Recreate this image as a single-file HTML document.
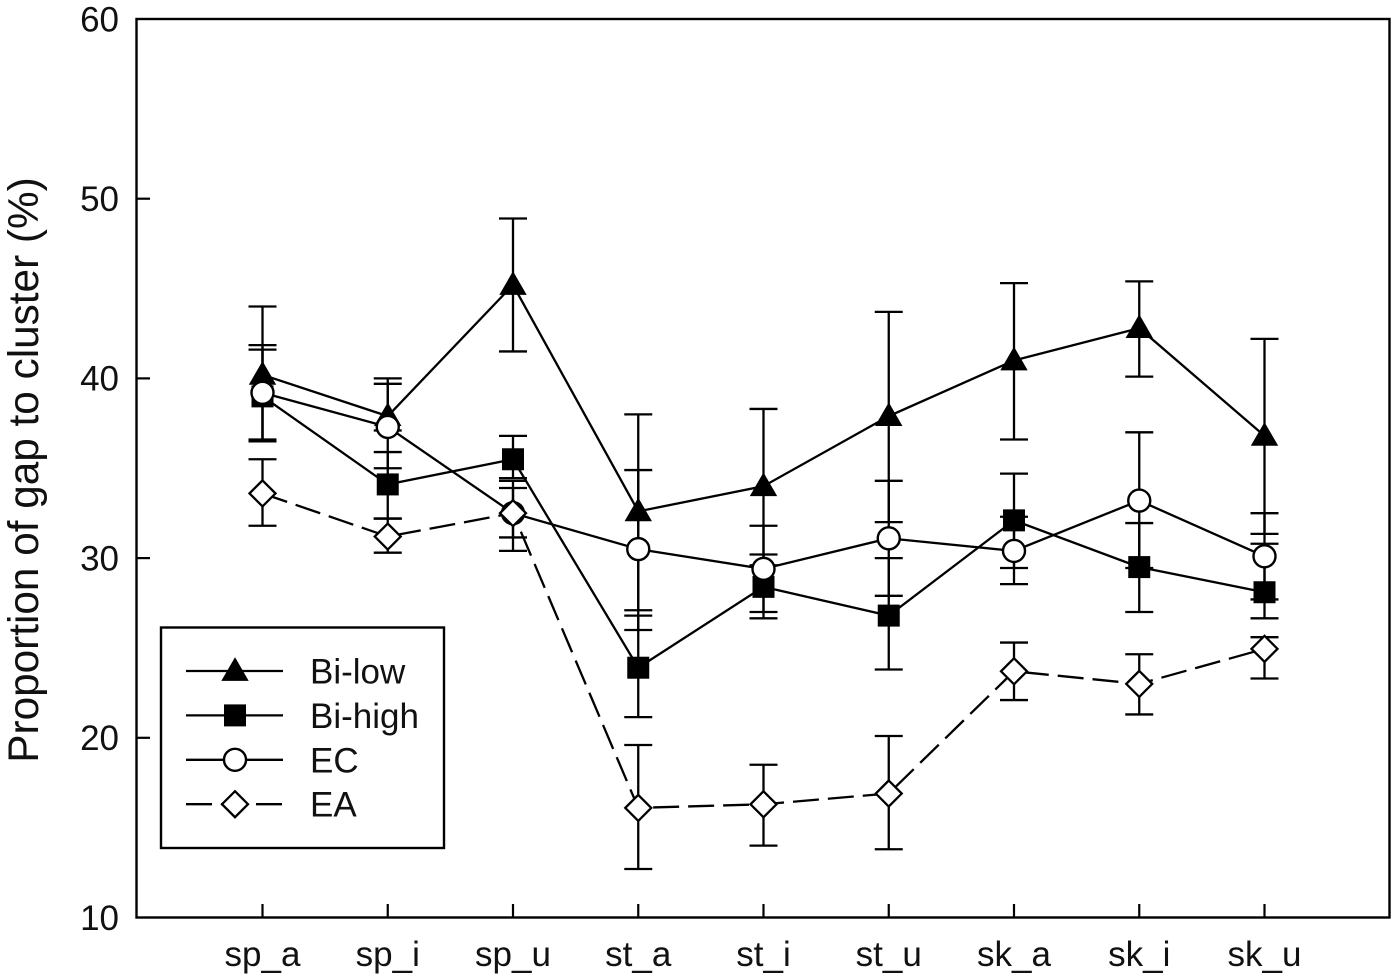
<!DOCTYPE html>
<html lang="en">
<head>
<meta charset="utf-8">
<title>Proportion of gap to cluster</title>
<style>
html,body{margin:0;padding:0;background:#fff;width:1400px;height:978px;overflow:hidden}
svg{display:block}
text{font-family:"Liberation Sans",Arial,sans-serif;fill:#111}
</style>
</head>
<body>
<svg id="chart" width="1400" height="978" viewBox="0 0 1400 978" xmlns="http://www.w3.org/2000/svg">
  <rect x="136.5" y="19" width="1253" height="898.5" fill="none" stroke="#000" stroke-width="2.4"/>
  <text transform="translate(38,470) rotate(-90)" text-anchor="middle" font-size="42.3">Proportion of gap to cluster (%)</text>
  <g id="ticks"></g>
  <g id="series"></g>
  <g id="legend">
    <rect x="161" y="627.5" width="283" height="220.5" fill="#fff" stroke="#000" stroke-width="2.4"/>
  </g>
</svg>
<script>
const categories = ['sp_a','sp_i','sp_u','st_a','st_i','st_u','sk_a','sk_i','sk_u'];
const yTicks = [10,20,30,40,50,60];

const biLowValues = [40.2,37.9,45.2,32.6,34.0,37.9,41.0,42.8,36.8];
const biLowUpper  = [44.0,40.0,48.9,38.0,38.3,43.7,45.3,45.4,42.2];
const biLowLower  = [36.5,37.1,41.5,27.1,29.6,32.0,36.6,40.1,31.35];

const biHighValues = [39.0,34.1,35.5,23.9,28.4,26.8,32.1,29.5,28.1];
const biHighUpper  = [41.6,35.9,36.8,26.8,30.2,30.0,34.7,31.95,30.8];
const biHighLower  = [36.5,32.2,34.45,21.15,26.65,23.8,29.45,27.0,26.65];

const ecValues = [39.2,37.3,32.5,30.5,29.4,31.1,30.4,33.2,30.1];
const ecUpper  = [41.85,39.7,34.3,34.9,31.8,34.3,32.3,37.0,32.5];
const ecLower  = [36.6,35.0,30.4,26.0,27.0,27.9,28.55,29.45,27.7];

const eaValues = [33.6,31.2,32.5,16.1,16.3,16.9,23.7,23.0,24.95];
const eaUpper  = [35.5,32.2,33.9,19.6,18.5,20.1,25.3,24.65,25.6];
const eaLower  = [31.8,30.3,31.15,12.7,14.0,13.8,22.1,21.3,23.3];

const seriesNames = ['Bi-low','Bi-high','EC','EA'];

const NS = 'http://www.w3.org/2000/svg';
const xScale = i => 262.5 + i * 125.25;
const yScale = v => 917.5 - (v - 10) * 17.97;

function mk(parent, tag, attrs) {
  const el = document.createElementNS(NS, tag);
  for (const k in attrs) el.setAttribute(k, attrs[k]);
  parent.appendChild(el);
  return el;
}

function drawMarker(parent, kind, cx, cy, label) {
  let el;
  if (kind === 'triangle') {
    el = mk(parent, 'polygon', {points: `${cx},${cy-13} ${cx+13},${cy+9.5} ${cx-13},${cy+9.5}`, fill: '#000', stroke: '#000', 'stroke-width': 0.8});
  } else if (kind === 'square') {
    el = mk(parent, 'rect', {x: cx-11, y: cy-11, width: 22, height: 22, fill: '#000'});
  } else if (kind === 'circle') {
    el = mk(parent, 'circle', {cx: cx, cy: cy, r: 11, fill: '#fff', stroke: '#000', 'stroke-width': 2.4});
  } else {
    el = mk(parent, 'polygon', {points: `${cx},${cy-13} ${cx+13},${cy} ${cx},${cy+13} ${cx-13},${cy}`, fill: '#fff', stroke: '#000', 'stroke-width': 2.3});
  }
  
  
}

const ticksG = document.getElementById('ticks');
yTicks.forEach(v => {
  const y = yScale(v);
  if (v !== 10 && v !== 60) {
    const t = mk(ticksG, 'line', {x1: 136.5, x2: 150, y1: y, y2: y, stroke: '#000', 'stroke-width': 2.2});
    
    
  }
  const lab = mk(ticksG, 'text', {x: 119, y: y + 12.3, 'text-anchor': 'end', 'font-size': 35});
  lab.textContent = v;
  
  
});
categories.forEach((c, i) => {
  const x = xScale(i);
  const t = mk(ticksG, 'line', {x1: x, x2: x, y1: 917.5, y2: 904, stroke: '#000', 'stroke-width': 2.2});
  
  
  const lab = mk(ticksG, 'text', {x: x, y: 966, 'text-anchor': 'middle', 'font-size': 35});
  lab.textContent = c;
  
  
});

const seriesList = [
  {name: seriesNames[0], values: biLowValues, upper: biLowUpper, lower: biLowLower, marker: 'triangle', dash: ''},
  {name: seriesNames[1], values: biHighValues, upper: biHighUpper, lower: biHighLower, marker: 'square', dash: ''},
  {name: seriesNames[2], values: ecValues, upper: ecUpper, lower: ecLower, marker: 'circle', dash: ''},
  {name: seriesNames[3], values: eaValues, upper: eaUpper, lower: eaLower, marker: 'diamond', dash: '26 9'}
];

const seriesG = document.getElementById('series');
const legendG = document.getElementById('legend');

seriesList.forEach(s => {
  const g = mk(seriesG, 'g', {});
  
  
  s.values.forEach((v, i) => {
    const x = xScale(i);
    const stem = mk(g, 'line', {x1: x, x2: x, y1: yScale(s.upper[i]), y2: yScale(s.lower[i]), stroke: '#000', 'stroke-width': 2.3});
    
    
    [s.upper[i], s.lower[i]].forEach(b => {
      const cap = mk(g, 'line', {x1: x - 14, x2: x + 14, y1: yScale(b), y2: yScale(b), stroke: '#000', 'stroke-width': 2.3});
      
      
    });
  });
  const pts = s.values.map((v, i) => xScale(i) + ',' + yScale(v)).join(' ');
  const line = mk(g, 'polyline', {points: pts, fill: 'none', stroke: '#000', 'stroke-width': 2.3});
  if (s.dash) line.setAttribute('stroke-dasharray', s.dash);
  
  
});
seriesList.forEach(s => {
  s.values.forEach((v, i) => drawMarker(seriesG, s.marker, xScale(i), yScale(v), 'data-point'));
});

seriesList.forEach((s, i) => {
  const y = 671 + i * 44.4;
  const l = mk(legendG, 'line', {x1: 186, x2: 283, y1: y, y2: y, stroke: '#000', 'stroke-width': 2.3});
  if (s.dash) l.setAttribute('stroke-dasharray', '26 9');
  
  
  drawMarker(legendG, s.marker, 235, y, 'legend-marker');
  const t = mk(legendG, 'text', {x: 310, y: y + 12.5, 'font-size': 35});
  t.textContent = s.name;
  
  
});
</script>
</body>
</html>
